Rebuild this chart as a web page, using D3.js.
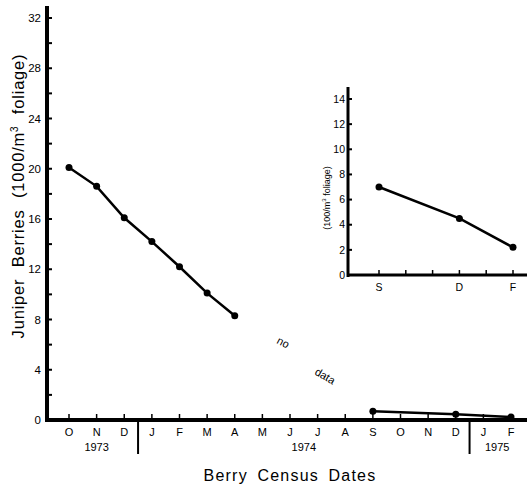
<!DOCTYPE html>
<html>
<head>
<meta charset="utf-8">
<script src="https://cdn.jsdelivr.net/npm/d3@7"></script>
<style>
  html, body { margin: 0; padding: 0; background: #fff; }
  svg { display: block; font-family: "Liberation Sans", Arial, Helvetica, sans-serif; }
</style>
</head>
<body>
<svg id="chart" width="527" height="486"></svg>
<script>
// ---- data ----
const monthLabels = ["O","N","D","J","F","M","A","M","J","J","A","S","O","N","D","J","F"];
const yearLabels = ["1973", "1974", "1975"];
const yearLabelPos = [1, 8.5, 15.5];          // month index of label centre
const yearBreaks = [2.5, 14.5];                // month index of year separators
const yTicks = [0, 4, 8, 12, 16, 20, 24, 28, 32];
const yMinorTicks = [2, 6, 10, 14, 18, 22, 26, 30];
const early73Idx = [0, 1, 2, 3, 4, 5, 6];
const early73Vals = [20.1, 18.6, 16.1, 14.2, 12.2, 10.1, 8.3];   // 1000/m3
const late74Idx = [11, 14, 16];
const late74Vals = [0.7, 0.45, 0.23];                            // 1000/m3
const insetMonths = ["S","O","N","D","J","F"];
const insetShown = ["S","D","F"];
const insetTicks = [0, 2, 4, 6, 8, 10, 12, 14];
const insetIdx = [0, 3, 5];
const insetVals = [7.0, 4.5, 2.2];                               // 100/m3

const svg = d3.select("#chart");

// ---- main scales ----
const x = d3.scaleLinear().domain([0, 16]).range([69, 511]);
const y = d3.scaleLinear().domain([0, 32]).range([420, 18]);
const axisX = 47;

// y axis
const gy = svg.append("g").attr("transform", `translate(${axisX},0)`);
gy.append("line").attr("x1", 0).attr("x2", 0).attr("y1", y(0) + 2).attr("y2", 6)
  .attr("stroke", "#000").attr("stroke-width", 4);
gy.selectAll(".maj").data(yTicks.filter(d => d > 0)).join("line")
  .attr("x1", 0).attr("x2", 5).attr("y1", d => y(d)).attr("y2", d => y(d))
  .attr("stroke", "#000").attr("stroke-width", 2);
gy.selectAll(".min").data(yMinorTicks).join("line")
  .attr("x1", 0).attr("x2", 5).attr("y1", d => y(d)).attr("y2", d => y(d))
  .attr("stroke", "#000").attr("stroke-width", 2);
gy.selectAll("text").data(yTicks).join("text")
  .attr("x", -6).attr("y", d => y(d)).attr("dy", "0.35em")
  .attr("text-anchor", "end").attr("font-size", 11.5).text(d => d);

svg.append("text")
  .attr("transform", "translate(24,196) rotate(-90)")
  .attr("text-anchor", "middle").attr("font-size", 16.5).attr("word-spacing", 6)
  .attr("letter-spacing", 0.8)
  .html('Juniper Berries (1000/m<tspan dy="-6" font-size="10">3</tspan><tspan dy="6"> foliage)</tspan>');

// x axis
svg.append("line").attr("x1", axisX - 2).attr("x2", 527).attr("y1", y(0)).attr("y2", y(0))
  .attr("stroke", "#000").attr("stroke-width", 4);
svg.selectAll(".xt").data(monthLabels).join("line")
  .attr("x1", (d, i) => x(i)).attr("x2", (d, i) => x(i))
  .attr("y1", y(0)).attr("y2", y(0) - 6)
  .attr("stroke", "#000").attr("stroke-width", 1.5);
svg.selectAll(".xl").data(monthLabels).join("text")
  .attr("x", (d, i) => x(i)).attr("y", 436)
  .attr("text-anchor", "middle").attr("font-size", 11).text(d => d);
svg.selectAll(".yb").data(yearBreaks).join("line")
  .attr("x1", d => x(d)).attr("x2", d => x(d)).attr("y1", y(0)).attr("y2", 454)
  .attr("stroke", "#000").attr("stroke-width", 2);
svg.selectAll(".yl").data(yearLabels).join("text")
  .attr("x", (d, i) => x(yearLabelPos[i])).attr("y", 451)
  .attr("text-anchor", "middle").attr("font-size", 11).text(d => d);
svg.append("text").attr("x", 290).attr("y", 481).attr("text-anchor", "middle")
  .attr("font-size", 16).attr("letter-spacing", 1.2).attr("word-spacing", 4)
  .text("Berry Census Dates");

// data
const line = d3.line().x(d => x(d[0])).y(d => y(d[1]));
const s1 = early73Idx.map((d, i) => [d, early73Vals[i]]);
const s2 = late74Idx.map((d, i) => [d, late74Vals[i]]);
[s1, s2].forEach(s => {
  svg.append("path").datum(s).attr("d", line).attr("fill", "none")
    .attr("stroke", "#000").attr("stroke-width", 2.5);
  svg.selectAll(null).data(s).join("circle")
    .attr("cx", d => x(d[0])).attr("cy", d => y(d[1])).attr("r", 3.5).attr("fill", "#000");
});

// no data
svg.append("text").attr("transform", "translate(276,343) rotate(28)")
  .attr("font-size", 11).text("no");
svg.append("text").attr("transform", "translate(314,374) rotate(30)")
  .attr("font-size", 11).text("data");

// ---- inset ----
const ix = d3.scaleLinear().domain([0, 5]).range([379, 513]);
const iy = d3.scaleLinear().domain([0, 14]).range([275, 99]);
const iAxisX = 348;
svg.append("line").attr("x1", iAxisX).attr("x2", iAxisX).attr("y1", iy(0) + 2).attr("y2", 87)
  .attr("stroke", "#000").attr("stroke-width", 3);
svg.append("line").attr("x1", iAxisX - 1).attr("x2", 527).attr("y1", iy(0)).attr("y2", iy(0))
  .attr("stroke", "#000").attr("stroke-width", 3);
svg.selectAll(".iyt").data(insetTicks.filter(d => d > 0)).join("line")
  .attr("x1", iAxisX).attr("x2", iAxisX + 4).attr("y1", d => iy(d)).attr("y2", d => iy(d))
  .attr("stroke", "#000").attr("stroke-width", 2);
svg.selectAll(".iyl").data(insetTicks).join("text")
  .attr("x", iAxisX - 3).attr("y", d => iy(d)).attr("dy", "0.35em")
  .attr("text-anchor", "end").attr("font-size", 10.5).text(d => d);
svg.selectAll(".ixt").data(insetMonths).join("line")
  .attr("x1", (d, i) => ix(i)).attr("x2", (d, i) => ix(i))
  .attr("y1", iy(0)).attr("y2", iy(0) - 5)
  .attr("stroke", "#000").attr("stroke-width", 1.5);
svg.selectAll(".ixl").data(insetMonths).join("text")
  .attr("x", (d, i) => ix(i)).attr("y", 291)
  .attr("text-anchor", "middle").attr("font-size", 10.5)
  .text(d => insetShown.includes(d) ? d : "");
svg.append("text")
  .attr("transform", "translate(330,198) rotate(-90)")
  .attr("text-anchor", "middle").attr("font-size", 9)
  .html('(100/m<tspan dy="-4" font-size="6">3</tspan><tspan dy="4"> foliage)</tspan>');
const iline = d3.line().x(d => ix(d[0])).y(d => iy(d[1]));
const s3 = insetIdx.map((d, i) => [d, insetVals[i]]);
svg.append("path").datum(s3).attr("d", iline).attr("fill", "none")
  .attr("stroke", "#000").attr("stroke-width", 2.5);
svg.selectAll(null).data(s3).join("circle")
  .attr("cx", d => ix(d[0])).attr("cy", d => iy(d[1])).attr("r", 3.5).attr("fill", "#000");
</script>
</body>
</html>
